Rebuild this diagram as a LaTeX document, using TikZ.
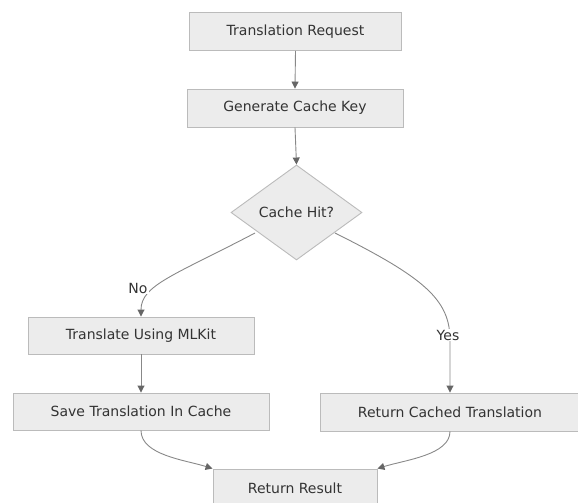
\documentclass[tikz,border=0pt]{standalone}
\usepackage{fontspec}
\setmainfont{DejaVu Sans}
\usetikzlibrary{shapes.geometric,arrows.meta}
\definecolor{boxfill}{HTML}{ECECEC}
\definecolor{boxline}{HTML}{BBBBBB}
\definecolor{edgeline}{HTML}{888888}
\definecolor{tipcol}{HTML}{666666}
\definecolor{txt}{HTML}{333333}
\tikzset{
  flowbox/.style={draw=boxline, fill=boxfill, line width=0.9pt, inner sep=0pt,
    text=txt, font=\fontsize{14}{16}\selectfont},
  decision/.style={flowbox, shape=diamond, minimum width=131pt, minimum height=95pt},
  edge/.style={draw=edgeline, line width=0.9pt,
    -{Triangle[length=7pt,width=7pt,color=tipcol]}},
  elabel/.style={fill=white, inner sep=1pt, text=txt, font=\fontsize{14}{16}\selectfont}
}
\begin{document}
\begin{tikzpicture}[x=1pt,y=-1pt]
\useasboundingbox (0,0) rectangle (578,503);
\begin{scope}
\clip (0,0) rectangle (578,503);
\node[flowbox, minimum width=212pt, minimum height=38pt] (tr) at (295.5,31.5) {Translation Request};
\node[flowbox, minimum width=216pt, minimum height=38pt] (gck) at (295,108) {Generate Cache Key};
\node[decision] (dia) at (296.5,212.5) {Cache Hit?};
\node[flowbox, minimum width=226pt, minimum height=37pt] (tml) at (141,335.5) {Translate Using MLKit};
\node[flowbox, minimum width=256pt, minimum height=37pt] (save) at (141,411.5) {Save Translation In Cache};
\node[flowbox, minimum width=260pt, minimum height=38pt] (rct) at (450,412) {Return Cached Translation};
\node[flowbox, minimum width=164pt, minimum height=38pt] (rr) at (295,488) {Return Result};

\coordinate (noS) at (255,233);
\coordinate (yesS) at (335,233);
\coordinate (yesM) at (450,340);

\draw[edge] (tr.south) -- (gck.north);
\draw[edge] (gck.south) -- (dia.north);
\draw[edge] (noS) .. controls (175,275) and (141,285) .. (tml.north);
\draw[edge] (yesS) .. controls (425,278) and (450,300) .. (yesM) -- (rct.north);
\draw[edge] (tml.south) -- (save.north);
\draw[edge] (save.south) .. controls (141,455) and (185,460) .. (rr.north west);
\draw[edge] (rct.south) .. controls (450,455) and (405,460) .. (rr.north east);

\node[elabel] (nolab) at (138,288) {No};
\node[elabel] (yeslab) at (448,335) {Yes};
\end{scope}
\end{tikzpicture}
\end{document}
